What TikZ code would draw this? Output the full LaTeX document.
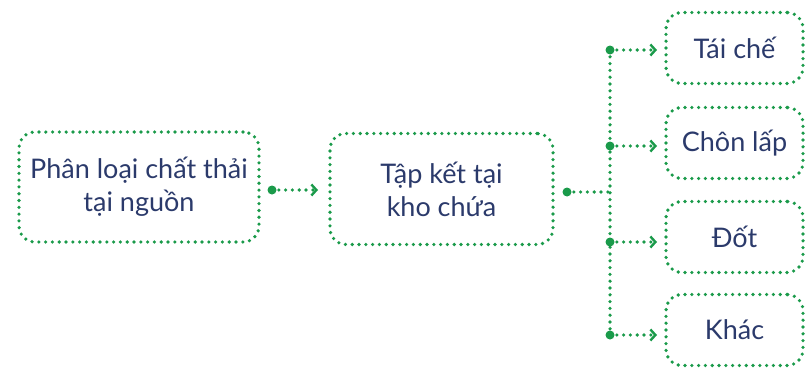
\documentclass[tikz,border=0pt]{standalone}
\usepackage{fontspec}
\setmainfont{Lato}
\usetikzlibrary{arrows.meta}
\definecolor{grn}{HTML}{1A9A4A}
\definecolor{txt}{HTML}{2B3A6B}
\tikzset{
  dotline/.style={draw=grn, line width=3.6pt, line cap=round, dash pattern=on 0pt off 6.8pt},
  box/.style={dotline, rounded corners=16pt, text=txt, align=center, font=\fontsize{27}{33}\selectfont, inner sep=0pt},
  conn/.style={dotline, -{Straight Barb[length=5pt,width=11pt,line width=2.4pt]}},
  jdot/.style={circle, fill=grn, inner sep=0pt, minimum size=9pt}
}
\begin{document}
\begin{tikzpicture}[x=1pt,y=-1pt]
\useasboundingbox (0,0) rectangle (805,372);
\node[box, minimum width=240pt, minimum height=110pt] (a) at (139,187) {Phân loại chất thải\\tại nguồn};
\node[box, minimum width=223pt, minimum height=111pt] (b) at (441.5,189) {Tập kết tại\\kho chứa};
\node[box, minimum width=137pt, minimum height=71pt] (c1) at (734.5,48) {Tái chế};
\node[box, minimum width=137pt, minimum height=71pt] (c2) at (734.5,143) {Chôn lấp};
\node[box, minimum width=137pt, minimum height=71pt] (c3) at (734.5,237) {Đốt};
\node[box, minimum width=137pt, minimum height=71pt] (c4) at (734.5,330) {Khác};
\node[jdot] (d0) at (272,190) {};
\draw[conn] (d0.center) -- (318,190) coordinate (t0);
\node[jdot] (d1) at (567,192) {};
\coordinate (j) at (610,192);
\draw[dotline] (d1.center) -- (j);
\node[jdot] (e1) at (610,50) {};
\node[jdot] (e2) at (610,146) {};
\node[jdot] (e3) at (610,242) {};
\node[jdot] (e4) at (610,335) {};
\draw[dotline] (e1.center) -- (e4.center);
\draw[conn] (e1.center) -- (657,50);
\draw[conn] (e2.center) -- (657,146);
\draw[conn] (e3.center) -- (657,242);
\draw[conn] (e4.center) -- (657,335);
\end{tikzpicture}
\end{document}
